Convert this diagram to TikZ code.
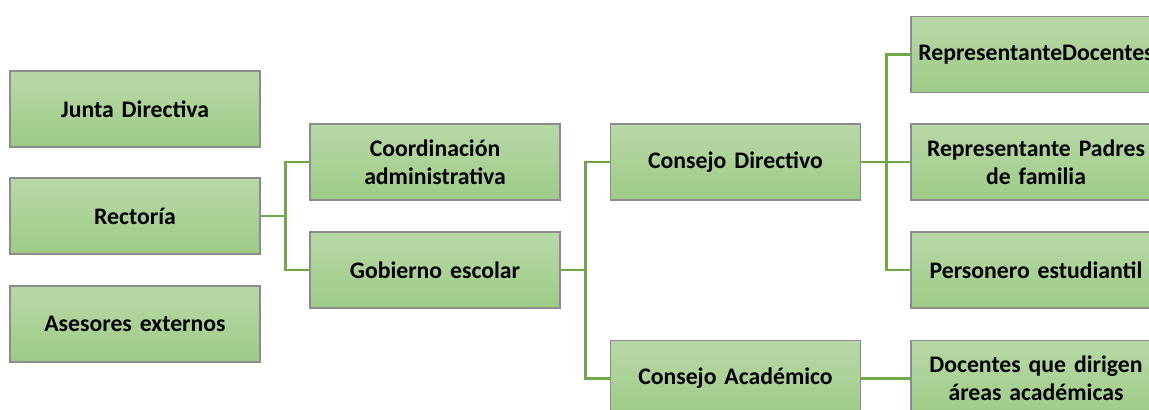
\documentclass[tikz,border=0pt]{standalone}
\usepackage{fontspec}
\setmainfont{Carlito}
\definecolor{boxtop}{RGB}{184,217,167}
\definecolor{boxbot}{RGB}{157,203,134}
\definecolor{boxline}{RGB}{140,140,140}
\definecolor{conn}{RGB}{112,168,72}
\tikzset{
  orgbox/.style={draw=boxline, line width=0.9pt, top color=boxtop, bottom color=boxbot,
    minimum width=187.5pt, minimum height=57pt, inner sep=2pt, align=center,
    text width=180pt, font=\fontsize{17.8}{21}\selectfont\bfseries},
  link/.style={draw=conn, line width=2.2pt}
}
\begin{document}
\begin{tikzpicture}[x=0.75pt,y=-0.75pt]
\useasboundingbox (0,0) rectangle (1149,410);
\clip (0,0) rectangle (1149,410);
\node[orgbox] (jd) at (135,109) {Junta Directiva};
\node[orgbox] (re) at (135,216) {Rectoría};
\node[orgbox] (ae) at (135,324) {Asesores externos};
\node[orgbox] (ca) at (435,162) {Coordinación\\administrativa};
\node[orgbox] (ge) at (435,270) {Gobierno escolar};
\node[orgbox] (cd) at (735.5,162) {Consejo Directivo};
\node[orgbox] (cac) at (735.5,378.5) {Consejo Académico};
\node[orgbox] (rd) at (1036,54.5) {RepresentanteDocentes};
\node[orgbox] (rp) at (1036,162) {Representante Padres\\de familia};
\node[orgbox] (pe) at (1036,270) {Personero estudiantil};
\node[orgbox] (dd) at (1036,378.5) {Docentes que dirigen\\áreas académicas};
\draw[link] (re.east) -- ++(25,0) |- (ca.west);
\draw[link] (re.east) -- ++(25,0) |- (ge.west);
\draw[link] (ge.east) -- ++(25,0) |- (cd.west);
\draw[link] (ge.east) -- ++(25,0) |- (cac.west);
\draw[link] (cd.east) -- ++(25,0) |- (rd.west);
\draw[link] (cd.east) -- (rp.west);
\draw[link] (cd.east) -- ++(25,0) |- (pe.west);
\draw[link] (cac.east) -- (dd.west);
\end{tikzpicture}
\end{document}
